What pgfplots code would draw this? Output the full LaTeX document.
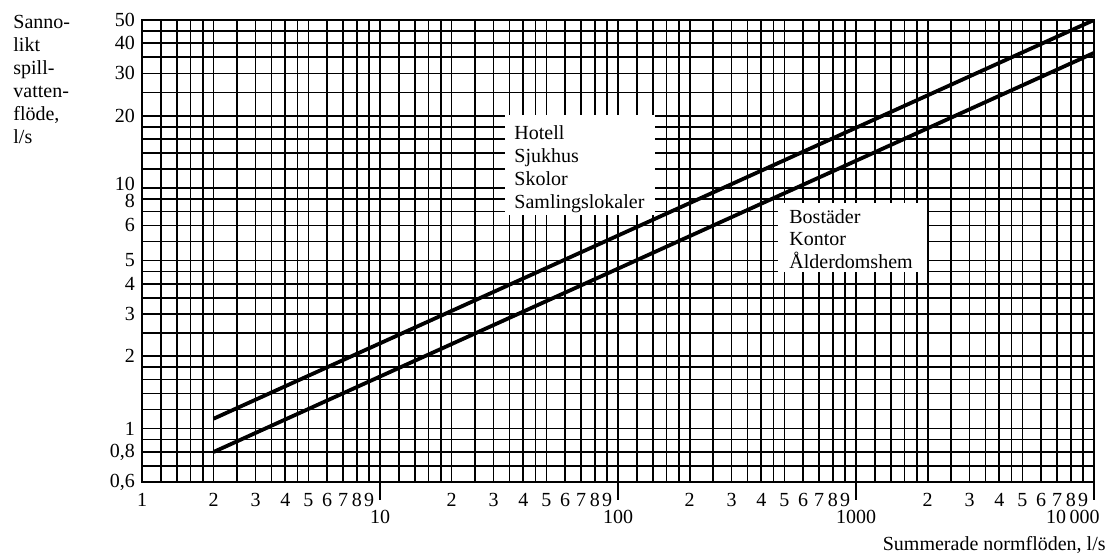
\documentclass[border=0pt]{standalone}
\usepackage{fontspec}
\setmainfont{Liberation Serif}
\usepackage{pgfplots}
\pgfplotsset{compat=1.18}
\begin{document}
\begin{tikzpicture}
\useasboundingbox (0pt,0pt) rectangle (555pt,-278pt);
\begin{axis}[
  at={(71pt,-241pt)}, anchor=south west,
  scale only axis, width=476pt, height=231pt,
  clip mode=individual,
  xmode=log, ymode=log,
  xmin=1, xmax=10000, ymin=0.6, ymax=50,
  xtick={1,1.2,1.4,1.6,1.8,2,2.5,3,3.5,4,4.5,5,6,7,8,9,
         10,12,14,16,18,20,25,30,35,40,45,50,60,70,80,90,
         100,120,140,160,180,200,250,300,350,400,450,500,600,700,800,900,
         1000,1200,1400,1600,1800,2000,2500,3000,3500,4000,4500,5000,6000,7000,8000,9000,10000},
  xticklabels={1,,,,,2,,3,,4,,5,6,7,8,9,
               ,,,,,2,,3,,4,,5,6,7,8,9,
               ,,,,,2,,3,,4,,5,6,7,8,9,
               ,,,,,2,,3,,4,,5,6,7,8,9,},
  xticklabel style={yshift=-2pt},
  ytick={0.6,0.7,0.8,0.9,1,1.2,1.4,1.6,1.8,2,2.5,3,3.5,4,4.5,5,6,7,8,9,10,12,14,16,18,20,25,30,35,40,45,50},
  yticklabels={{0,6},,{0,8},,1,,,,,2,,3,,4,,5,,6,,,,,,,,20,,30,,40,,50},
  grid=major, grid style={black, line width=0.85pt},
  major tick length=0pt, tick pos=left,
  axis line style={line width=1pt},
  extra x ticks={10,100,1000,10000},
  extra x tick labels={{},{},{},{}},
  extra x tick style={grid=none, tick align=outside, major tick length=9pt,
                      tick style={black, line width=0.8pt}},
]
\fill[white] (rel axis cs:0.3813,0.5779) rectangle (rel axis cs:0.5389,0.7944);
\fill[white] (rel axis cs:0.6681,0.4545) rectangle (rel axis cs:0.8246,0.6039);
\node[anchor=north west, align=left, inner sep=0pt, font=\fontsize{10}{11.6}\selectfont]
  at (rel axis cs:0.3908,0.7727) {Hotell\\Sjukhus\\Skolor\\Samlingslokaler};
\node[anchor=north west, align=left, inner sep=0pt, font=\fontsize{10}{11.3}\selectfont]
  at (rel axis cs:0.6796,0.5909) {Bostäder\\Kontor\\Ålderdomshem};
\addplot[black, line width=1.9pt] coordinates {(2,1.1) (10000,50)};
\addplot[black, line width=1.9pt] coordinates {(2,0.8) (10000,36.5)};
\node[anchor=east, yshift=2.2pt] at (axis cs:1,10) {10};
\node[anchor=east, yshift=-1pt] at (axis cs:1,9) {8};
\node[anchor=north, yshift=-10.7pt] at (axis cs:10,0.6) {10};
\node[anchor=north, yshift=-10.7pt] at (axis cs:100,0.6) {100};
\node[anchor=north, yshift=-10.7pt] at (axis cs:1000,0.6) {1000};
\node[anchor=north east, xshift=6.3pt, yshift=-10.7pt] at (axis cs:10000,0.6) {10\,000};
\end{axis}
\node[anchor=north west, align=left, inner sep=0pt, font=\fontsize{10}{11.5}\selectfont]
  at (6.5pt,-7.5pt) {Sanno-\\likt\\spill-\\vatten-\\flöde,\\l/s};
\node[anchor=base east, inner sep=0pt] at (553pt,-275pt) {Summerade normflöden, l/s};
\end{tikzpicture}
\end{document}
